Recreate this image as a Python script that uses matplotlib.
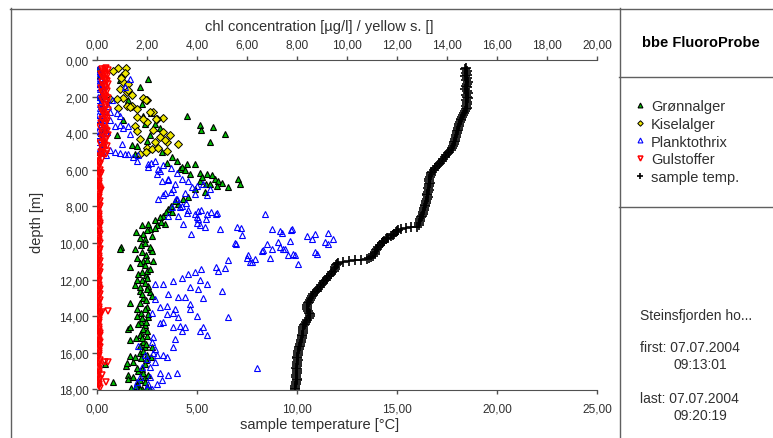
# FluoroProbe depth profile: algae classes + sample temperature
import matplotlib
matplotlib.use("Agg")
import matplotlib.pyplot as plt
from matplotlib.lines import Line2D
from matplotlib.ticker import FuncFormatter

plt.rcParams['font.family'] = ['Liberation Sans', 'DejaVu Sans']

# Data: (chl concentration [ug/l], depth [m]) ..............................

green_pts = [
    (0.05, 0.5), (0.1, 0.8), (0.15, 1.3), (0.1, 2.0), (0.2, 2.6), (0.1, 3.3), (0.15, 4.0),
    (0.25, 4.6), (0.1, 5.0), (0.3, 3.7),
    (2.05, 1.05), (1.7, 1.5), (1.8, 2.4), (1.85, 3.05), (3.6, 3.05), (4.1, 3.55), (4.65, 3.65),
    (4.15, 3.8), (5.1, 4.05), (4.5, 4.5), (1.4, 4.65), (1.6, 4.7), (1.05, 3.3), (2.3, 3.5),
    (2.5, 3.7), (0.8, 4.1), (1.5, 5.15), (3.0, 5.3), (2.8, 5.6), (1.9, 3.5), (2.15, 2.9),
    (1.25, 2.2), (0.9, 1.1), (2.1, 4.1), (2.0, 4.4), (2.6, 5.0),
    (3.6, 5.7), (3.9, 5.7), (4.1, 6.15), (4.4, 6.25), (4.7, 6.5), (4.85, 6.6), (5.25, 6.95),
    (5.65, 6.5), (5.7, 6.75), (4.8, 6.9), (4.1, 6.6), (3.7, 6.25), (3.3, 5.95), (3.2, 5.5),
    (3.4, 5.85), (4.3, 7.2), (4.35, 6.8), (3.9, 7.05), (3.65, 7.5), (4.6, 6.3), (5.0, 6.7),
    (4.2, 6.4), (3.5, 6.0), (4.5, 6.8),
    (3.25, 7.85), (2.85, 8.15), (2.65, 8.5), (2.3, 8.75), (2.1, 9.25), (1.85, 9.5), (1.55, 9.4),
    (3.1, 7.7), (2.95, 8.0), (2.75, 8.3), (2.5, 8.6), (2.7, 8.95), (2.05, 8.95), (2.4, 9.0),
    (2.2, 9.6), (1.9, 9.8), (3.45, 7.6), (3.0, 8.3), (2.55, 8.85), (2.3, 9.2),
    (1.75, 10.1), (0.95, 10.2), (1.5, 10.35), (1.95, 10.65), (2.15, 10.35), (0.9, 10.3),
    (2.2, 10.45), (1.3, 11.3), (1.95, 11.75), (1.65, 11.7), (2.0, 11.5), (1.85, 11.0),
    (1.6, 10.8), (2.05, 12.35), (1.8, 12.0), (1.7, 12.6), (2.1, 12.7), (1.3, 13.25),
    (1.85, 13.0), (2.0, 13.5), (1.75, 13.8), (2.05, 14.05), (1.9, 14.5), (1.25, 14.7),
    (1.3, 14.6), (1.75, 14.9), (2.0, 15.1), (1.3, 15.3), (1.85, 15.4), (1.9, 15.7),
    (2.2, 15.7), (1.7, 16.0), (1.3, 16.15), (1.15, 16.7), (1.2, 16.55), (1.95, 16.4),
    (1.8, 16.9), (1.25, 17.2), (1.25, 17.45), (1.9, 17.3), (0.65, 17.6), (1.6, 17.7),
    (2.0, 17.85), (1.35, 17.9), (1.8, 18.0), (0.3, 16.6), (1.7, 15.0), (1.6, 13.6),
    (2.2, 12.9), (1.9, 11.2), (1.5, 12.3), (1.75, 14.3), (2.15, 16.2), (1.65, 17.0), (1.45, 16.5),
    (1.8, 9.0), (2.0, 9.3), (1.7, 9.7), (1.9, 10.0), (2.1, 10.2), (1.8, 10.5), (2.0, 10.9),
    (1.7, 11.1), (2.1, 11.4), (1.8, 11.6), (2.0, 11.9), (1.9, 12.2), (1.7, 12.4), (2.0, 12.5),
    (1.8, 12.8), (1.95, 13.1), (1.7, 13.3), (1.9, 13.6), (2.05, 13.9), (1.8, 14.1),
    (1.95, 14.3), (1.65, 14.4), (1.85, 14.7), (2.0, 14.8), (1.8, 15.2), (1.95, 15.5),
    (1.7, 15.6), (1.85, 15.9), (2.0, 16.1), (1.75, 16.3), (1.9, 16.6), (1.6, 16.8),
    (1.85, 17.1), (2.05, 17.2), (1.7, 17.5), (1.9, 17.6), (1.55, 17.8), (2.1, 17.95),
    (1.7, 18.0), (1.45, 17.3), (1.5, 16.2), (1.55, 15.2), (1.6, 14.0), (1.6, 12.0), (2.25, 11.0),
]

yellow_pts = [
    (0.85, 0.45), (1.15, 0.45), (0.65, 0.6), (1.0, 0.85), (1.05, 1.2), (1.25, 1.3), (0.9, 1.6),
    (1.2, 1.75), (1.05, 2.05), (0.8, 2.15), (1.85, 2.05), (2.0, 2.2), (1.4, 2.5), (0.85, 2.6),
    (1.6, 2.7), (2.25, 2.85), (2.65, 3.15), (2.4, 3.2), (1.6, 3.1), (2.0, 3.4), (1.5, 3.6),
    (2.25, 3.8), (2.65, 3.95), (2.9, 4.1), (3.25, 4.6), (1.7, 4.3), (2.0, 4.8), (2.2, 4.85),
    (2.45, 4.8), (2.8, 4.95), (1.7, 5.15), (1.2, 2.5), (0.5, 2.15), (2.8, 4.5), (1.25, 1.65),
    (1.95, 2.2), (2.1, 2.85), (2.35, 3.25), (1.85, 3.25), (2.5, 4.2), (2.7, 4.35), (1.95, 5.05),
    (1.3, 2.55), (0.95, 1.0), (1.1, 0.7), (1.6, 3.9), (2.3, 4.5), (1.4, 1.9),
]

blue_pts = [
    (0.05, 0.5), (0.1, 0.7), (0.0, 0.9), (0.15, 1.1), (0.05, 1.3), (0.1, 1.6), (0.2, 1.8),
    (0.05, 2.0), (0.15, 2.3), (0.1, 2.6), (0.25, 2.8), (0.05, 3.0), (0.2, 3.3), (0.1, 3.6),
    (0.3, 3.8), (0.05, 4.1), (0.15, 4.3), (0.25, 4.6), (0.1, 4.9), (0.2, 5.1), (0.35, 5.2),
    (0.0, 0.6), (0.1, 1.0), (0.05, 1.5), (0.15, 1.9), (0.0, 2.2), (0.1, 2.4), (0.2, 2.9),
    (0.0, 3.2), (0.15, 3.5), (0.05, 3.9), (0.2, 4.2), (0.0, 4.5), (0.1, 4.8), (0.0, 5.2),
    (0.25, 1.4), (0.3, 2.1), (0.35, 4.0),
    (1.3, 1.05), (1.1, 1.5), (0.9, 3.05), (1.25, 3.6), (1.3, 4.05), (0.7, 3.6), (0.5, 2.85),
    (0.7, 5.05), (1.1, 5.15), (1.45, 5.3), (1.6, 5.5), (0.9, 5.1), (0.5, 4.9), (0.4, 3.95),
    (0.45, 2.5), (0.9, 3.55), (1.05, 3.7), (0.5, 3.3), (1.25, 5.15), (1.65, 5.2), (0.6, 2.2),
    (0.8, 2.9), (1.0, 4.6),
    (2.05, 5.85), (2.15, 5.6), (2.65, 5.75), (2.45, 5.95), (2.05, 5.7), (2.3, 5.5), (2.5, 6.05),
    (2.4, 6.25), (2.85, 6.5), (3.2, 6.15), (3.4, 6.5), (3.65, 6.6), (3.8, 6.95), (3.5, 7.25),
    (3.05, 7.05), (2.65, 7.4), (2.45, 7.6), (3.2, 7.6), (3.4, 7.95), (3.0, 8.05), (3.6, 8.35),
    (4.05, 8.25), (4.4, 8.4), (4.8, 8.35), (3.25, 8.5), (4.0, 8.6), (6.7, 8.4), (4.0, 6.9),
    (4.25, 6.8), (4.5, 7.05), (4.4, 7.4), (2.85, 6.55), (2.7, 7.25), (2.95, 7.2), (3.15, 7.6),
    (3.3, 8.05), (3.55, 7.8), (2.85, 8.5), (3.65, 8.2), (3.9, 8.4), (4.15, 8.2), (4.05, 8.7),
    (4.35, 8.7), (4.55, 8.3), (4.75, 8.4), (3.1, 6.8), (3.9, 7.3), (2.95, 5.9), (2.6, 6.6),
    (3.45, 8.95), (4.0, 8.9), (4.1, 9.0), (4.9, 9.25), (5.6, 9.1), (5.8, 9.55), (5.5, 10.0),
    (7.0, 9.25), (7.4, 9.45), (7.8, 9.25), (7.7, 9.9), (7.25, 9.95), (6.8, 10.05), (6.6, 10.45),
    (7.0, 10.35), (7.5, 10.35), (7.85, 10.6), (6.05, 10.65), (6.3, 10.85), (6.1, 11.05),
    (8.05, 11.15), (8.4, 9.6), (8.7, 9.5), (8.7, 10.5), (8.8, 10.6), (9.25, 9.45), (9.45, 9.8),
    (9.1, 9.95), (9.25, 10.05), (8.6, 9.8), (7.3, 9.35), (7.75, 9.3), (7.3, 10.2), (7.45, 10.35),
    (6.65, 10.4), (7.65, 10.65), (7.9, 10.65), (6.9, 10.8), (6.2, 11.05), (4.3, 9.15),
    (5.55, 10.05), (5.25, 10.95), (4.75, 11.3), (5.1, 11.35), (4.15, 11.4), (6.0, 10.8),
    (5.75, 9.2), (3.75, 9.5),
    (4.85, 11.5), (3.9, 11.6), (3.65, 11.7), (3.4, 11.9), (3.05, 12.1), (2.65, 12.25),
    (2.3, 12.25), (4.1, 12.0), (4.4, 12.25), (4.05, 12.5), (3.7, 12.4), (5.0, 12.6),
    (2.85, 12.8), (3.25, 12.95), (3.5, 12.95), (4.25, 13.0), (2.3, 13.05), (3.7, 13.35),
    (2.8, 13.45), (2.5, 13.5), (3.1, 13.6), (3.7, 13.6), (2.2, 13.8), (2.8, 13.9), (3.05, 13.8),
    (4.0, 14.0), (5.25, 14.05), (2.65, 14.3), (2.5, 14.35), (3.25, 14.05), (3.3, 14.55),
    (3.05, 14.6), (3.4, 14.8), (3.5, 14.6), (4.25, 14.6), (4.1, 14.8), (4.4, 15.0), (2.25, 15.15),
    (2.2, 15.4), (3.1, 15.25), (3.05, 15.7), (2.3, 15.8), (2.25, 16.0), (2.4, 16.1), (2.65, 16.1),
    (2.8, 16.2), (2.0, 16.35), (2.1, 16.75), (2.5, 17.1), (2.85, 17.2), (3.2, 17.1), (2.1, 17.3),
    (1.7, 17.3), (6.4, 16.85), (1.6, 17.6), (2.05, 17.7), (2.4, 17.7), (1.5, 17.9), (2.0, 17.9),
    (1.65, 15.65), (1.8, 16.75), (2.3, 16.5), (2.6, 17.5), (2.2, 17.95), (1.9, 16.1),
]

red_pts = [
    (0.35, 0.45), (0.2, 0.5), (0.45, 0.55), (0.3, 0.65), (0.15, 0.75), (0.4, 0.85), (0.25, 0.95),
    (0.35, 1.1), (0.2, 1.2), (0.45, 1.3), (0.3, 1.45), (0.15, 1.55), (0.4, 1.7), (0.25, 1.85),
    (0.35, 2.0), (0.2, 2.15), (0.4, 2.3), (0.3, 2.45), (0.15, 2.6), (0.45, 2.75), (0.25, 2.9),
    (0.35, 3.05), (0.2, 3.2), (0.4, 3.35), (0.3, 3.5), (0.1, 3.65), (0.35, 3.8), (0.25, 3.95),
    (0.45, 4.1), (0.2, 4.25), (0.3, 4.4), (0.1, 4.55), (0.4, 4.7), (0.25, 4.85), (0.15, 5.0),
    (0.35, 5.15), (0.05, 5.3), (0.2, 5.4),
    (0.3, 0.5), (0.25, 0.6), (0.35, 0.75), (0.2, 0.9), (0.3, 1.05), (0.4, 1.15), (0.25, 1.35),
    (0.35, 1.6), (0.2, 1.75), (0.3, 1.95), (0.45, 2.1), (0.25, 2.25), (0.35, 2.55), (0.2, 2.8),
    (0.3, 3.0), (0.4, 3.15), (0.25, 3.3), (0.15, 3.45), (0.3, 3.7), (0.4, 3.9), (0.2, 4.05),
    (0.35, 4.3), (0.25, 4.5), (0.3, 4.65), (0.2, 4.8), (0.4, 4.95), (0.25, 5.1), (0.1, 5.25),
    (0.05, 5.5), (0.1, 5.7), (0.03, 5.9), (0.08, 6.1), (0.12, 6.3), (0.04, 6.5), (0.09, 6.7),
    (0.06, 6.9), (0.11, 7.1), (0.02, 7.3), (0.07, 7.5), (0.1, 7.7), (0.05, 7.9), (0.08, 8.1),
    (0.03, 8.3), (0.09, 8.5), (0.06, 8.7), (0.12, 8.9), (0.04, 9.1), (0.07, 9.3), (0.1, 9.5),
    (0.05, 9.7), (0.08, 9.9), (0.03, 10.1), (0.11, 10.3), (0.06, 10.5), (0.09, 10.7),
    (0.04, 10.9), (0.07, 11.1), (0.1, 11.3), (0.05, 11.5), (0.08, 11.7), (0.02, 11.9),
    (0.09, 12.1), (0.06, 12.3), (0.11, 12.5), (0.04, 12.7), (0.07, 12.9), (0.1, 13.1),
    (0.05, 13.3), (0.08, 13.5), (0.03, 13.7), (0.12, 13.9), (0.06, 14.1), (0.09, 14.3),
    (0.04, 14.5), (0.07, 14.7), (0.1, 14.9), (0.05, 15.1), (0.08, 15.3), (0.03, 15.5),
    (0.11, 15.7), (0.06, 15.9), (0.09, 16.1), (0.04, 16.3), (0.07, 16.5), (0.1, 16.7),
    (0.05, 16.9), (0.08, 17.1), (0.03, 17.3), (0.09, 17.5), (0.06, 17.7), (0.1, 17.9),
    (0.08, 5.6), (0.04, 5.8), (0.1, 6.0), (0.06, 6.2), (0.02, 6.4), (0.09, 6.6), (0.05, 6.8),
    (0.1, 7.0), (0.04, 7.2), (0.08, 7.4), (0.03, 7.6), (0.07, 7.8), (0.11, 8.0), (0.05, 8.2),
    (0.08, 8.4), (0.02, 8.6), (0.07, 8.8), (0.1, 9.0), (0.05, 9.2), (0.09, 9.4), (0.03, 9.6),
    (0.07, 9.8), (0.1, 10.0), (0.05, 10.2), (0.08, 10.4), (0.02, 10.6), (0.06, 10.8),
    (0.1, 11.0), (0.04, 11.2), (0.08, 11.4), (0.11, 11.6), (0.05, 11.8), (0.07, 12.0),
    (0.03, 12.2), (0.09, 12.4), (0.06, 12.6), (0.1, 12.8), (0.04, 13.0), (0.08, 13.2),
    (0.02, 13.4), (0.07, 13.6), (0.1, 13.8), (0.05, 14.0), (0.08, 14.2), (0.03, 14.4),
    (0.09, 14.6), (0.06, 14.8), (0.1, 15.0), (0.04, 15.2), (0.07, 15.4), (0.09, 15.6),
    (0.03, 15.8), (0.08, 16.0), (0.05, 16.2), (0.1, 16.4), (0.06, 16.6), (0.02, 16.8),
    (0.08, 17.0), (0.05, 17.2), (0.1, 17.4), (0.04, 17.6), (0.07, 17.8),
    (0.15, 6.15), (0.15, 7.1), (0.45, 13.7), (0.1, 15.4), (0.3, 16.5), (0.45, 16.5),
    (0.35, 17.6), (0.2, 17.2), (0.2, 13.75),
]

# (depth [m], sample temperature [degC])
temp_pts = [
    (0.45, 18.45), (0.5, 18.4), (0.6, 18.5), (0.7, 18.45), (0.8, 18.5), (0.9, 18.4),
    (1.0, 18.5), (1.1, 18.45), (1.2, 18.55), (1.3, 18.5), (1.4, 18.45), (1.5, 18.5),
    (1.6, 18.4), (1.7, 18.5), (1.8, 18.55), (1.9, 18.45), (2.0, 18.5), (2.1, 18.55),
    (2.2, 18.45), (2.3, 18.5), (2.4, 18.5), (2.5, 18.45), (2.6, 18.5), (2.7, 18.45),
    (2.8, 18.4), (2.9, 18.35), (3.0, 18.3), (3.1, 18.25), (3.2, 18.2), (3.3, 18.2),
    (3.4, 18.15), (3.5, 18.1), (3.6, 18.1), (3.7, 18.05), (3.8, 18.05), (3.9, 18.0),
    (4.0, 18.0), (4.1, 17.95), (4.2, 17.95), (4.3, 17.9), (4.4, 17.9), (4.5, 17.85),
    (4.6, 17.85), (4.7, 17.8), (4.8, 17.75), (4.9, 17.7), (5.0, 17.6), (5.1, 17.55),
    (5.2, 17.45), (5.3, 17.4), (5.4, 17.3), (5.5, 17.25), (5.6, 17.15), (5.7, 17.1),
    (5.8, 17.0), (5.9, 16.9), (6.0, 16.85), (6.1, 16.75), (6.2, 16.7), (6.3, 16.7),
    (6.4, 16.65), (6.5, 16.6), (6.6, 16.6), (6.7, 16.65), (6.8, 16.6), (6.9, 16.6),
    (7.0, 16.55), (7.1, 16.6), (7.2, 16.55), (7.3, 16.5), (7.4, 16.5), (7.5, 16.55),
    (7.6, 16.5), (7.7, 16.45), (7.8, 16.45), (7.9, 16.4), (8.0, 16.4), (8.1, 16.35),
    (8.2, 16.35), (8.3, 16.3), (8.4, 16.3), (8.5, 16.25), (8.6, 16.2), (8.7, 16.15),
    (8.8, 16.15), (8.9, 16.1), (9.0, 16.1), (9.1, 16.0), (9.15, 15.7), (9.2, 15.45),
    (9.25, 15.2), (9.3, 15.05), (9.35, 15.0), (9.4, 14.95), (9.5, 14.85), (9.55, 14.8),
    (9.6, 14.7), (9.7, 14.55), (9.75, 14.5), (9.8, 14.45), (9.9, 14.35), (9.95, 14.3),
    (10.0, 14.25), (10.1, 14.15), (10.2, 14.05), (10.3, 14.0), (10.4, 13.95), (10.5, 13.9),
    (10.6, 13.9), (10.7, 13.8), (10.75, 13.7), (10.8, 13.6), (10.85, 13.5), (10.9, 13.2),
    (10.95, 12.9), (11.0, 12.6), (11.05, 12.3), (11.1, 12.05), (11.15, 12.0), (11.2, 11.95),
    (11.3, 11.9), (11.4, 11.9), (11.5, 11.85), (11.6, 11.75), (11.7, 11.7), (11.8, 11.6),
    (11.9, 11.5), (12.0, 11.45), (12.1, 11.35), (12.2, 11.3), (12.3, 11.2), (12.4, 11.15),
    (12.5, 11.05), (12.6, 11.0), (12.7, 10.9), (12.8, 10.8), (12.9, 10.75), (13.0, 10.7),
    (13.1, 10.65), (13.2, 10.6), (13.3, 10.55), (13.4, 10.5), (13.5, 10.5), (13.6, 10.5),
    (13.7, 10.55), (13.8, 10.6), (13.9, 10.65), (14.0, 10.65), (14.1, 10.6), (14.2, 10.5),
    (14.3, 10.45), (14.4, 10.4), (14.5, 10.35), (14.6, 10.3), (14.7, 10.3), (14.8, 10.3),
    (14.9, 10.3), (15.0, 10.25), (15.1, 10.25), (15.2, 10.25), (15.3, 10.2), (15.4, 10.2),
    (15.5, 10.15), (15.6, 10.15), (15.7, 10.1), (15.8, 10.1), (15.9, 10.05), (16.0, 10.05),
    (16.1, 10.05), (16.2, 10.0), (16.3, 10.0), (16.4, 10.05), (16.5, 10.0), (16.6, 10.0),
    (16.7, 10.0), (16.8, 9.95), (16.9, 10.0), (17.0, 10.0), (17.1, 10.0), (17.2, 9.95),
    (17.3, 9.95), (17.4, 10.0), (17.5, 10.0), (17.6, 9.95), (17.7, 9.95), (17.8, 9.9),
    (17.9, 9.9), (18.0, 9.9),
]

series_names = ["Grønnalger", "Kiselalger", "Planktothrix", "Gulstoffer", "sample temp."]
chl_ticks = [0, 2, 4, 6, 8, 10, 12, 14, 16, 18, 20]
temp_ticks = [0, 5, 10, 15, 20, 25]
depth_ticks = [0, 2, 4, 6, 8, 10, 12, 14, 16, 18]

site_name = "Steinsfjorden ho..."
first_time = ("07.07.2004", "09:13:01")
last_time = ("07.07.2004", "09:20:19")


# Figure ......................................................................

W, H = 773, 439
fig = plt.figure(figsize=(W / 100, H / 100), dpi=100)
fig.patch.set_facecolor("white")

def fx(px):
    return px / W

def fy(py):
    return 1 - py / H

ax = fig.add_axes([fx(97), fy(390.5), fx(597) - fx(97), fy(61) - fy(390.5)])
ax_t = ax.twiny()

comma = FuncFormatter(lambda v, p: f"{v:.2f}".replace(".", ","))
axis_col = "#505050"
text_col = "#303030"

mk = dict(linestyle="none", markersize=5, markeredgewidth=0.8)
gx, gy = zip(*green_pts)
yx, yy = zip(*yellow_pts)
bx, by = zip(*blue_pts)
rx, ry = zip(*red_pts)
td, tv = zip(*temp_pts)
h_green, = ax.plot(gx, gy, marker="^", markerfacecolor="#00c000", markeredgecolor="black", **mk)
h_yellow, = ax.plot(yx, yy, marker="D", markersize=4, markerfacecolor="#f0e800",
                    markeredgecolor="black", markeredgewidth=0.7, linestyle="none")
h_blue, = ax.plot(bx, by, marker="^", markerfacecolor="none", markeredgecolor="#0000ff", **mk)
h_red, = ax.plot(rx, ry, marker="v", markerfacecolor="none", markeredgecolor="#ff0000",
                 linestyle="none", markersize=5, markeredgewidth=1.1)
h_temp, = ax_t.plot(tv, td, marker="+", color="black", linestyle="none",
                    markersize=6.5, markeredgewidth=1.2)

# chl axis on top
ax.set_xlim(0, 20)
ax.set_ylim(18, 0)
ax.set_xticks(chl_ticks)
ax.set_yticks(depth_ticks)
ax.xaxis.set_major_formatter(comma)
ax.yaxis.set_major_formatter(comma)
ax.xaxis.tick_top()
ax.tick_params(axis="x", direction="out", length=3, width=1, color=axis_col,
               labelsize=8.6, labelcolor=text_col, pad=4)
ax.tick_params(axis="y", direction="out", length=3.5, width=1, color=axis_col,
               labelsize=8.6, labelcolor=text_col, pad=2.5)

# temperature axis on bottom
ax_t.set_xlim(0, 25)
ax_t.set_xticks(temp_ticks)
ax_t.xaxis.set_major_formatter(comma)
ax_t.xaxis.tick_bottom()
ax_t.tick_params(axis="x", direction="out", length=3, width=1, color=axis_col,
                 labelsize=8.6, labelcolor=text_col, pad=6)

for a in (ax, ax_t):
    for s in ("left", "right", "top", "bottom"):
        a.spines[s].set_visible(False)
ax.spines["top"].set_visible(True)
ax.spines["top"].set_color(axis_col)
ax_t.spines["bottom"].set_visible(True)
ax_t.spines["bottom"].set_color(axis_col)

# axis titles
fig.text(fx(319), fy(27), "chl concentration [µg/l] / yellow s. []", ha="center", va="center",
         fontsize=10.5, color=text_col)
fig.text(fx(320), fy(425), "sample temperature [°C]", ha="center", va="center",
         fontsize=10.5, color=text_col)
fig.text(fx(37), fy(222), "depth [m]", ha="center", va="center", rotation=90,
         fontsize=10.5, color=text_col)

# frame and side panel lines
line_col = "#606060"
for (x0, y0, x1, y1) in [(10, 9.5, 773, 9.5), (10.5, 9, 10.5, 439), (619.5, 9, 619.5, 439),
                         (619, 77.5, 773, 77.5), (619, 207.5, 773, 207.5)]:
    fig.add_artist(Line2D([fx(x0), fx(x1)], [fy(y0), fy(y1)], color=line_col, lw=1))

fig.text(fx(642), fy(43), "bbe FluoroProbe", ha="left", va="center", fontsize=10.5,
         fontweight="bold", color="black")

fig.legend([h_green, h_yellow, h_blue, h_red, h_temp], series_names,
           loc="upper left", bbox_to_anchor=(fx(627), fy(93)), frameon=False,
           fontsize=10.5, handlelength=0.8, handletextpad=0.35, labelspacing=0.25,
           markerscale=0.7, borderpad=0, labelcolor=text_col)

fig.text(fx(640), fy(316), site_name, ha="left", va="center", fontsize=10, color=text_col)
fig.text(fx(640), fy(348), "first: " + first_time[0], ha="left", va="center", fontsize=10,
         color=text_col)
fig.text(fx(673), fy(365), first_time[1], ha="left", va="center", fontsize=10, color=text_col)
fig.text(fx(640), fy(399), "last: " + last_time[0], ha="left", va="center", fontsize=10,
         color=text_col)
fig.text(fx(673), fy(416), last_time[1], ha="left", va="center", fontsize=10, color=text_col)

fig.savefig("out.png", dpi=100)
